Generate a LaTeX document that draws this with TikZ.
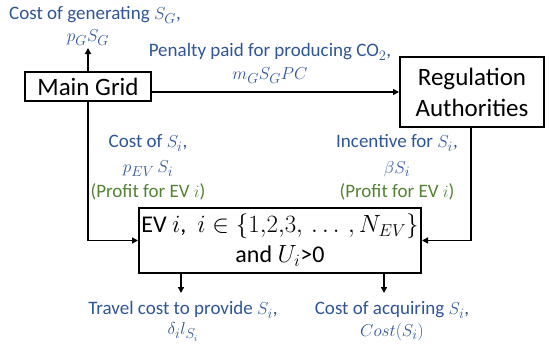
\documentclass[tikz,border=0pt]{standalone}
\usepackage{fontspec}
\setmainfont{Carlito}
\usetikzlibrary{arrows.meta}
\definecolor{lblue}{RGB}{47,85,151}
\definecolor{lgreen}{RGB}{84,130,53}
\begin{document}
\begin{tikzpicture}[x=1pt,y=-1pt,
  boxnode/.style={draw=black,line width=2pt,inner sep=0pt,align=center,font=\fontsize{25}{27}\selectfont},
  arr/.style={line width=1.6pt,-{Triangle[length=6pt,width=6pt]}},
  bluelbl/.style={text=lblue,align=center,font=\fontsize{19}{23}\selectfont,inner sep=0pt},
  greenlbl/.style={text=lgreen,align=center,font=\fontsize{19}{23}\selectfont,inner sep=0pt}]
\useasboundingbox (0,0) rectangle (550,351);
\node[boxnode,minimum width=126pt,minimum height=29pt] (mg) at (88,86.5) {Main Grid};
\node[boxnode,minimum width=144pt,minimum height=70pt,font=\fontsize{25}{31}\selectfont] (ra) at (472,92) {Regulation\\Authorities};
\node[boxnode,minimum width=282pt,minimum height=65pt,font=\fontsize{24}{30}\selectfont] (ev) at (280,240.5) {EV $i$,\ \ $i\in\{1,\!2,\!3,\,\ldots\,,N_{EV}\}$\\and $U_i$>0};
\coordinate (gtop) at (88,48);
\coordinate (tl) at (181,293);
\coordinate (tr) at (384,293);
\draw[arr] (mg.north) -- (gtop);
\draw[arr] (mg.east |- 0,92) -- (ra.west |- 0,92);
\draw[arr] (mg.south) |- (ev.west);
\draw[arr] (ra.south -| 471,0) |- (ev.east);
\draw[arr] (ev.south -| tl) -- (tl);
\draw[arr] (ev.south -| tr) -- (tr);
% labels
\node[bluelbl] (l1) at (95,15) {Cost of generating $S_G$,};
\node[bluelbl] (l2) at (88,38) {$p_GS_G$};
\node[bluelbl] (l3) at (270,52) {Penalty paid for producing CO$_2$,};
\node[bluelbl] (l4) at (270,76) {$m_GS_GPC$};
\node[bluelbl] (l5) at (148,143) {Cost of $S_i$,};
\node[bluelbl] (l6) at (148,169) {$p_{EV}\,S_i$};
\node[greenlbl] (l7) at (148,192) {(Profit for EV $i$)};
\node[bluelbl] (l8) at (397,143) {Incentive for $S_i$,};
\node[bluelbl] (l9) at (397,169) {$\beta S_i$};
\node[greenlbl] (l10) at (397,192) {(Profit for EV $i$)};
\node[bluelbl] (l11) at (183,310) {Travel cost to provide $S_i$,};
\node[bluelbl] (l12) at (183,332) {$\delta_i l_{S_i}$};
\node[bluelbl] (l13) at (392,310) {Cost of acquiring $S_i$,};
\node[bluelbl] (l14) at (392,332) {$Cost(S_i)$};
\end{tikzpicture}
\end{document}
